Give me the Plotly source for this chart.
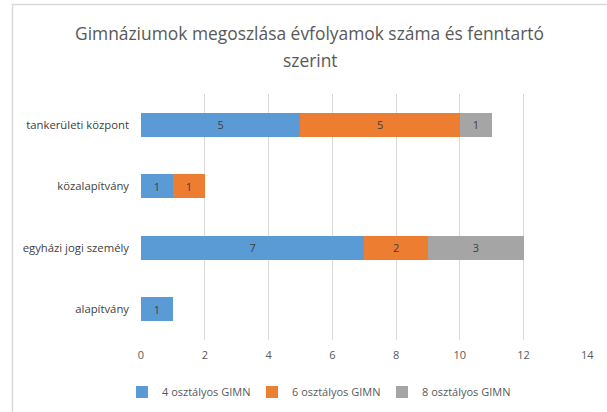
import plotly.graph_objects as go

categories = ["alapítvány", "egyházi jogi személy", "közalapítvány", "tankerületi központ"]
series_names = ["4 osztályos GIMN", "6 osztályos GIMN", "8 osztályos GIMN"]
s4 = [1, 7, 1, 5]
s6 = [None, 2, 1, 5]
s8 = [None, 3, None, 1]
colors = ["#5B9BD5", "#ED7D31", "#A5A5A5"]
x_ticks = [0, 2, 4, 6, 8, 10, 12, 14]
title_lines = ["Gimnáziumok megoszlása évfolyamok száma és fenntartó", "szerint"]

FONT = "Open Sans, DejaVu Sans, sans-serif"
W, H = 607, 412
L, R, T, B = 141, 19, 94, 72
PW, PH = W - L - R, H - T - B

def py(y):  # screen y -> paper y
    return (H - B - y) / PH

def px(x):
    return (x - L) / PW

fig = go.Figure()
for name, vals, col in zip(series_names, [s4, s6, s8], colors):
    fig.add_trace(go.Bar(
        y=categories, x=vals, name=name, orientation="h",
        marker=dict(color=col, line=dict(width=0)),
        text=[str(v) if v is not None else "" for v in vals],
        textposition="inside", insidetextanchor="middle",
        textfont=dict(color="#404040", size=11, family=FONT),
        cliponaxis=False,
    ))

annotations = [
    dict(text=title_lines[0], x=px(309), y=py(33), xref="paper", yref="paper",
         showarrow=False, xanchor="center", yanchor="middle",
         font=dict(family=FONT, size=17.4, color="#595959")),
    dict(text=title_lines[1], x=px(310), y=py(60), xref="paper", yref="paper",
         showarrow=False, xanchor="center", yanchor="middle",
         font=dict(family=FONT, size=17.4, color="#595959")),
]

fig.update_layout(
    width=W, height=H,
    barmode="stack", bargap=0.61,
    paper_bgcolor="white", plot_bgcolor="white",
    margin=dict(l=L, r=R, t=T, b=B, autoexpand=False),
    annotations=annotations,
    xaxis=dict(range=[0, 14.02], tickvals=x_ticks, showgrid=True, gridcolor="#D9D9D9", gridwidth=1,
               zeroline=False, showline=False, automargin=False,
               tickfont=dict(family=FONT, size=11, color="#595959"), ticklen=0, ticks="",
               ticklabelstandoff=7, fixedrange=True),
    yaxis=dict(categoryorder="array", categoryarray=categories, automargin=False,
               tickfont=dict(family=FONT, size=11.3, color="#404040"),
               showgrid=False, zeroline=False, showline=False, ticks="", ticklen=0,
               ticklabelstandoff=11, fixedrange=True),
    legend=dict(orientation="h", x=px(122), xanchor="left", y=py(392), yanchor="middle",
                font=dict(family=FONT, size=11, color="#595959"),
                itemwidth=30, traceorder="normal", entrywidth=85),
    showlegend=True,
    uniformtext=dict(minsize=8, mode="show"),
    shapes=[dict(type="rect", xref="paper", yref="paper",
                 x0=px(12.5), x1=px(640), y0=py(440), y1=py(4.5),
                 line=dict(color="#D9D9D9", width=1.5), layer="above")],
)
fig.write_html("out.html", config={"displayModeBar": False},
               post_script="document.body.style.margin='0';document.body.style.overflow='hidden';")
